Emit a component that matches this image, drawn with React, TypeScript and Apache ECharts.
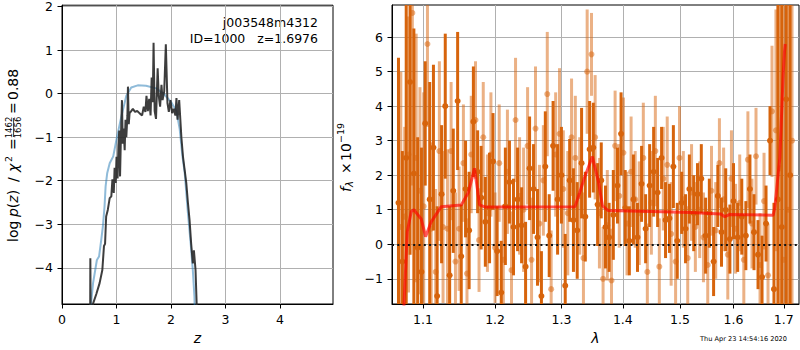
import React, { useEffect, useRef } from 'react';
import * as echarts from 'echarts';

// ---- left panel: log p(z) ----
const zTicks = [0, 1, 2, 3, 4];
const pzTicks = [-4, -3, -2, -1, 0, 1, 2];
const pzFull: [number, number][] = [
  [0.515, -6], [0.52, -3.78], [0.53, -6], [0.57, -4.82], [0.63, -4.6], [0.69, -4.35], [0.74, -4.05],
  [0.77, -3.5], [0.79, -3.45], [0.81, -2.82], [0.84, -2.67], [0.875, -2.4], [0.905, -2.36], [0.925, -1.97],
  [0.95, -2.28], [0.965, -1.7], [0.985, -2.05], [1.0, -1.45], [1.02, -1.95], [1.035, -1.2], [1.05, -0.85],
  [1.065, -1.9], [1.08, -1.05], [1.10, -0.15], [1.115, -1.15], [1.13, -0.8], [1.15, -1.3], [1.165, -0.6],
  [1.18, -1.0], [1.2, -0.5], [1.21, 0.16], [1.225, -0.7], [1.24, -0.45], [1.27, -0.4], [1.30, -0.35],
  [1.34, -0.42], [1.38, -0.4], [1.43, -0.46], [1.47, -0.5], [1.50, -0.3], [1.53, -0.42], [1.55, -0.05],
  [1.575, -0.4], [1.60, -0.12], [1.625, -0.5], [1.645, 0.37], [1.665, -0.2], [1.68, 1.17], [1.70, -0.4],
  [1.725, -0.58], [1.755, 0.58], [1.775, -0.05], [1.80, -0.3], [1.825, 0.2], [1.845, -0.15], [1.875, 0.05],
  [1.905, 1.13], [1.935, -0.22], [1.96, -0.42], [1.99, -0.15], [2.02, -0.45], [2.05, -0.35], [2.08, -0.5],
  [2.10, -0.1], [2.12, -0.6], [2.15, -0.15], [2.19, -1.0], [2.22, -1.45], [2.25, -1.75], [2.28, -2.05],
  [2.31, -2.5], [2.34, -2.9], [2.37, -3.45], [2.40, -3.9], [2.42, -3.6], [2.45, -4.05], [2.47, -4.8], [2.49, -6],
];
const pzSmooth: [number, number][] = [
  [0.51, -6], [0.53, -4.85], [0.57, -4.35], [0.64, -3.82], [0.68, -3.74], [0.72, -3.36], [0.75, -3.05],
  [0.78, -2.6], [0.80, -2.13], [0.83, -1.82], [0.875, -1.6], [0.94, -1.44], [1.0, -1.05], [1.09, -0.52],
  [1.18, -0.05], [1.27, 0.14], [1.39, 0.19], [1.54, 0.18], [1.73, 0.12], [1.88, -0.02], [2.01, -0.21],
  [2.10, -0.4], [2.16, -0.82], [2.21, -1.44], [2.25, -1.8], [2.31, -2.74], [2.36, -3.43], [2.40, -4.05],
  [2.43, -4.66], [2.45, -6],
];

// ---- right panel: spectrum ----
const lamTicks = [1.1, 1.2, 1.3, 1.4, 1.5, 1.6, 1.7];
const fluxTicks = [-1, 0, 1, 2, 3, 4, 5, 6];
// [wavelength, flux, error]
const specA: [number, number, number][] = [
  [1.068, 1.2, 4.2], [1.073, -0.5, 3.2], [1.078, 2.5, 5.5], [1.083, 4.7, 5.0], [1.088, 2.05, 4.2],
  [1.093, -0.1, 3.2], [1.098, -0.8, 3.6], [1.103, 3.5, 1.8], [1.109, 1.3, 3.4], [1.114, 2.8, 2.4],
  [1.119, -1.5, 2.6], [1.125, 1.45, 2.0], [1.130, 4.0, 2.1], [1.136, -0.9, 2.0], [1.141, 1.55, 1.8],
  [1.147, 4.15, 2.0], [1.152, -0.35, 1.5], [1.158, 1.6, 1.4], [1.163, 0.4, 1.7], [1.169, 3.55, 1.6],
  [1.175, 2.1, 1.2], [1.180, 1.35, 1.5], [1.186, 0.65, 1.3], [1.192, 1.05, 1.6], [1.197, 2.4, 1.4],
  [1.203, -0.2, 1.3], [1.209, -1.4, 1.5], [1.215, 1.1, 1.7], [1.221, 1.8, 1.2], [1.227, 0.5, 1.4],
  [1.233, 1.3, 1.5], [1.239, 0.55, 1.1], [1.245, -0.65, 1.3], [1.251, 2.2, 1.5], [1.257, 1.6, 1.3],
  [1.263, 0.2, 1.4], [1.269, -1.5, 1.3], [1.275, 2.25, 1.6], [1.281, 0.25, 1.2], [1.287, 2.85, 1.3],
  [1.294, 1.3, 1.6], [1.300, 2.0, 1.4], [1.306, -1.2, 1.5], [1.313, 1.85, 1.2], [1.319, 0.7, 1.5],
  [1.325, 0.4, 1.4], [1.332, 2.35, 1.6], [1.338, 0.8, 1.3], [1.345, 2.75, 1.4], [1.351, 2.8, 1.3],
  [1.358, 1.15, 1.2], [1.364, 1.85, 1.1], [1.371, 0.5, 1.2], [1.377, 0.2, 1.0], [1.384, 0.85, 1.3],
  [1.391, 1.7, 1.1], [1.397, 3.2, 1.2], [1.404, 1.05, 1.1], [1.411, 0.1, 1.0], [1.418, 1.3, 1.3],
  [1.425, 0.2, 1.0], [1.432, 1.75, 1.1], [1.439, 0.45, 1.0], [1.446, 1.7, 1.2], [1.453, 2.1, 1.3],
  [1.460, 1.5, 1.0], [1.467, 2.5, 0.9], [1.474, 0.7, 1.1], [1.481, 0.75, 1.0], [1.488, 2.25, 1.2],
  [1.495, 0.1, 1.1], [1.503, 1.2, 0.9], [1.510, 0.45, 1.0], [1.517, 1.6, 1.0], [1.525, 0.9, 1.1],
  [1.532, 1.45, 0.9], [1.539, 1.9, 1.0], [1.547, 0.25, 1.1], [1.554, 0.9, 1.0], [1.562, -0.5, 1.0],
  [1.570, 1.4, 0.9], [1.577, 0.35, 1.0], [1.585, 1.0, 1.2], [1.593, 0.15, 1.0], [1.600, 1.25, 1.1],
  [1.608, 0.2, 1.0], [1.616, 0.8, 1.1], [1.624, 0.25, 1.0], [1.632, 1.6, 1.0], [1.640, 0.35, 1.1],
  [1.648, -0.3, 1.0], [1.656, -0.95, 1.2], [1.664, 0.6, 1.1], [1.672, 3.0, 1.0], [1.680, -1.3, 2.5],
  [1.688, 1.3, 6], [1.696, 0.5, 8], [1.705, 4.2, 8], [1.713, 2.0, 8],
];
const specB: [number, number, number][] = [
  [1.071, 0.5, 4.5], [1.076, 0.8, 2.6], [1.081, 2.6, 4.0], [1.086, 6.7, 5.0], [1.091, 2.5, 3.6],
  [1.096, 1.55, 3.0], [1.101, 1.1, 3.3], [1.106, 5.8, 2.4], [1.111, 0.45, 2.5], [1.117, -0.8, 2.4],
  [1.122, 2.7, 2.6], [1.127, 0.5, 2.2], [1.133, 0.45, 2.3], [1.138, 2.7, 2.0], [1.144, -0.5, 2.0],
  [1.149, 0.45, 1.8], [1.155, 2.35, 1.7], [1.160, -0.85, 1.6], [1.166, 2.6, 1.7], [1.172, 3.6, 1.7],
  [1.177, 0.12, 1.5], [1.183, 3.1, 1.6], [1.189, 0.9, 1.7], [1.194, 2.6, 1.8], [1.200, -0.1, 1.6],
  [1.206, 2.35, 1.7], [1.212, -0.45, 1.6], [1.218, 2.1, 1.8], [1.224, -0.75, 1.7], [1.230, 3.6, 1.8],
  [1.236, 1.4, 1.7], [1.242, 1.0, 1.8], [1.248, 2.85, 1.7], [1.254, -0.45, 1.8], [1.260, 3.35, 1.8],
  [1.266, 0.6, 1.7], [1.272, 1.85, 1.6], [1.278, 4.35, 1.8], [1.284, -1.3, 1.7], [1.291, 2.6, 1.8],
  [1.297, 3.2, 1.9], [1.303, 1.6, 1.7], [1.310, 0.9, 1.8], [1.316, 3.1, 1.7], [1.322, 2.5, 1.8],
  [1.329, 1.4, 1.7], [1.335, -0.4, 1.9], [1.341, 5.0, 1.8], [1.348, 5.5, 1.2], [1.354, 3.1, 1.8],
  [1.361, 0.9, 1.6], [1.367, -1.0, 1.5], [1.374, 0.55, 1.6], [1.381, -1.05, 1.5], [1.387, 2.85, 1.6],
  [1.394, 1.4, 1.5], [1.401, 2.65, 1.6], [1.407, 0.6, 1.5], [1.414, 2.1, 1.6], [1.421, 1.3, 1.4],
  [1.428, 0.9, 1.5], [1.435, 2.5, 1.6], [1.442, -0.8, 1.4], [1.449, 1.2, 1.5], [1.456, 2.7, 1.6],
  [1.463, -0.65, 1.4], [1.470, 1.9, 1.5], [1.477, 2.3, 1.4], [1.484, 0.3, 1.5], [1.492, -0.5, 1.4],
  [1.499, 2.5, 1.5], [1.506, 1.3, 1.4], [1.514, -0.4, 1.5], [1.521, 1.5, 1.4], [1.528, 0.5, 1.3],
  [1.536, 1.0, 1.4], [1.543, 0.2, 1.3], [1.551, -0.6, 1.4], [1.558, 1.55, 1.3], [1.566, 0.4, 1.4],
  [1.573, 2.35, 1.3], [1.581, 1.3, 1.5], [1.589, -0.3, 1.3], [1.596, 1.9, 1.4], [1.604, 0.45, 1.3],
  [1.612, 1.2, 1.4], [1.620, -0.45, 1.3], [1.628, 2.45, 1.4], [1.636, 0.6, 1.3], [1.644, 2.55, 1.4],
  [1.652, -0.6, 1.5], [1.660, 1.25, 1.4], [1.668, -0.9, 1.5], [1.676, 3.85, 1.9], [1.684, 3.3, 3.5],
  [1.692, 2.2, 6], [1.700, -0.45, 8], [1.709, 1.0, 8], [1.717, 3.0, 8],
];
const model: [number, number][] = [
  [1.0735, -3], [1.0751, -1.76], [1.0794, 0.37], [1.0846, 0.95], [1.088, 1.0], [1.0978, 0.73],
  [1.1035, 0.22], [1.111, 0.65], [1.1245, 1.09], [1.152, 1.14], [1.162, 1.5], [1.1706, 2.2],
  [1.1777, 1.14], [1.185, 1.08], [1.3215, 1.09], [1.329, 1.5], [1.3364, 1.91], [1.3494, 2.54],
  [1.3592, 1.83], [1.3661, 1.11], [1.375, 0.98], [1.45, 0.95], [1.52, 0.92], [1.575, 0.88],
  [1.5833, 0.8], [1.592, 0.86], [1.6783, 0.84], [1.6817, 1.06], [1.6919, 2.5], [1.6987, 4.9],
  [1.7016, 5.6], [1.703, 5.8],
];

const FONT = 'DejaVu Sans';
const minus = (v: number, d = 0) => v.toFixed(d).replace('-', '\u2212');
const ORANGE = 'rgb(215,100,12)';

function errorSeries(points: [number, number, number][], opacity: number) {
  return {
    type: 'custom',
    xAxisIndex: 1,
    yAxisIndex: 1,
    clip: true,
    encode: { x: 0, y: 1 },
    data: points.map(([w, f, e]) => [Math.log(w), f, e]),
    renderItem: (params: any, api: any) => {
      const x = api.value(0);
      const y = api.value(1);
      const e = api.value(2);
      const top = api.coord([x, y + e]);
      const bot = api.coord([x, y - e]);
      const c = api.coord([x, y]);
      return {
        type: 'group',
        children: [
          { type: 'line', shape: { x1: top[0], y1: top[1], x2: bot[0], y2: bot[1] }, style: { stroke: ORANGE, lineWidth: 3, opacity } },
          { type: 'circle', shape: { cx: c[0], cy: c[1], r: 3 }, style: { fill: ORANGE, opacity } },
        ],
      };
    },
  };
}

function axisCommon(ticks: number[], fmt: (v: number) => string) {
  return {
    axisLine: { show: true, onZero: false, lineStyle: { color: '#000', width: 1 } },
    axisTick: { show: true, length: 4.5, customValues: ticks, lineStyle: { color: '#000', width: 1 } },
    axisLabel: { customValues: ticks, formatter: fmt, color: '#000', fontSize: 12.5, fontFamily: FONT, margin: 9 },
    splitLine: { show: true, lineStyle: { color: '#b0b0b0', width: 1 } },
  };
}

export default function App() {
  const ref = useRef<HTMLDivElement>(null);
  useEffect(() => {
    if (!ref.current) return;
    const chart = echarts.init(ref.current, undefined, { renderer: 'svg' });
    const lnTicks = lamTicks.map((t) => Math.log(t));
    chart.setOption({
      animation: false,
      textStyle: { fontFamily: FONT },
      grid: [
        { left: 62, top: 5, width: 271, height: 299, show: true, borderColor: '#000', borderWidth: 1, containLabel: false },
        { left: 392, top: 5, width: 407, height: 299, show: true, borderColor: '#000', borderWidth: 1, containLabel: false },
      ],
      xAxis: [
        {
          gridIndex: 0, type: 'value', min: 0, max: 4.972,
          ...axisCommon(zTicks, (v: number) => minus(v)),
          name: 'z', nameLocation: 'middle', nameGap: 26,
          nameTextStyle: { fontStyle: 'italic', fontSize: 14, color: '#000', fontFamily: FONT },
        },
        {
          gridIndex: 1, type: 'value', min: 0.05796, max: 0.549,
          ...axisCommon(lnTicks, (v: number) => Math.exp(v).toFixed(1)),
          name: '\u03bb', nameLocation: 'middle', nameGap: 26,
          nameTextStyle: { fontStyle: 'italic', fontSize: 14, color: '#000', fontFamily: FONT },
        },
      ],
      yAxis: [
        { gridIndex: 0, type: 'value', min: -4.83, max: 2.03, ...axisCommon(pzTicks, (v: number) => minus(v)) },
        { gridIndex: 1, type: 'value', min: -1.73, max: 6.93, ...axisCommon(fluxTicks, (v: number) => minus(v)) },
      ],
      series: [
        {
          type: 'line', xAxisIndex: 0, yAxisIndex: 0, data: pzSmooth, showSymbol: false, symbol: 'none',
          lineStyle: { color: 'rgba(31,119,180,0.5)', width: 2 }, z: 2,
        },
        {
          type: 'line', xAxisIndex: 0, yAxisIndex: 0, data: pzFull, showSymbol: false, symbol: 'none',
          lineStyle: { color: 'rgba(40,40,40,0.9)', width: 2 }, z: 3,
        },
        errorSeries(specA, 1),
        errorSeries(specB, 0.5),
        {
          type: 'line', xAxisIndex: 1, yAxisIndex: 1, data: model.map(([w, f]) => [Math.log(w), f]),
          showSymbol: false, symbol: 'none', lineStyle: { color: 'rgba(255,0,0,0.65)', width: 3 }, z: 4,
          markLine: {
            silent: true, symbol: 'none', label: { show: false },
            lineStyle: { color: '#111', type: [2, 3.3], width: 2 },
            data: [{ yAxis: 0 }],
          },
        },
      ],
      graphic: [
        {
          type: 'text', x: 318, y: 22,
          style: { text: 'j003548m4312', fill: '#000', fontSize: 12.5, fontFamily: FONT, align: 'right', verticalAlign: 'middle', textAlign: 'right', textVerticalAlign: 'middle' },
        },
        {
          type: 'text', x: 318, y: 38,
          style: { text: 'ID=1000   z=1.6976', fill: '#000', fontSize: 12.5, fontFamily: FONT, align: 'right', verticalAlign: 'middle', textAlign: 'right', textVerticalAlign: 'middle' },
        },
        {
          type: 'group', x: 13.3, y: 242, rotation: Math.PI / 2,
          children: [
            { type: 'text', x: 0, y: 0, style: { text: 'log', fill: '#000', fontSize: 14, fontFamily: FONT, align: 'left', verticalAlign: 'middle' } },
            {
              type: 'text', x: 25, y: 0,
              style: {
                text: '{i|p}{u|(}{i|z}{u|)}', fill: '#000', fontSize: 14, fontFamily: FONT, align: 'left', verticalAlign: 'middle',
                rich: { i: { fontStyle: 'italic', fontSize: 14, fontFamily: FONT }, u: { fontSize: 14, fontFamily: FONT } },
              },
            },
            { type: 'text', x: 60, y: 0, style: { text: '/', fill: '#000', fontSize: 14, fontFamily: FONT, align: 'left', verticalAlign: 'middle' } },
            { type: 'text', x: 70, y: 0, style: { text: '\u03c7', fill: '#000', fontSize: 14, fontStyle: 'italic', fontFamily: FONT, align: 'left', verticalAlign: 'middle' } },
            { type: 'text', x: 80, y: -5, style: { text: '2', fill: '#000', fontSize: 9.5, fontFamily: FONT, align: 'left', verticalAlign: 'middle' } },
            { type: 'text', x: 92, y: 0, style: { text: '=', fill: '#000', fontSize: 14, fontFamily: FONT, align: 'left', verticalAlign: 'middle' } },
            { type: 'text', x: 114.5, y: -4, style: { text: '1462', fill: '#000', fontSize: 8.5, fontFamily: FONT, align: 'center', verticalAlign: 'middle' } },
            { type: 'line', shape: { x1: 105, y1: 0.3, x2: 124, y2: 0.3 }, style: { stroke: '#000', lineWidth: 0.8 } },
            { type: 'text', x: 114.5, y: 4.6, style: { text: '1656', fill: '#000', fontSize: 8.5, fontFamily: FONT, align: 'center', verticalAlign: 'middle' } },
            { type: 'text', x: 128, y: 0, style: { text: '=', fill: '#000', fontSize: 14, fontFamily: FONT, align: 'left', verticalAlign: 'middle' } },
            { type: 'text', x: 142, y: 0, style: { text: '0.88', fill: '#000', fontSize: 14, fontFamily: FONT, align: 'left', verticalAlign: 'middle' } },
          ],
        },
        {
          type: 'group', x: 345.5, y: 192, rotation: Math.PI / 2,
          children: [
            { type: 'text', x: 0, y: 0, style: { text: 'f', fill: '#000', fontSize: 14, fontStyle: 'italic', fontFamily: FONT, align: 'left', verticalAlign: 'middle' } },
            { type: 'text', x: 5, y: 4, style: { text: '\u03bb', fill: '#000', fontSize: 10, fontStyle: 'italic', fontFamily: FONT, align: 'left', verticalAlign: 'middle' } },
            { type: 'text', x: 18, y: 0, style: { text: '\u00d7', fill: '#000', fontSize: 14, fontFamily: FONT, align: 'left', verticalAlign: 'middle' } },
            { type: 'text', x: 31, y: 0, style: { text: '10', fill: '#000', fontSize: 14, fontFamily: FONT, align: 'left', verticalAlign: 'middle' } },
            { type: 'text', x: 49, y: -5.5, style: { text: '\u221219', fill: '#000', fontSize: 9.5, fontFamily: FONT, align: 'left', verticalAlign: 'middle' } },
          ],
        },
        {
          type: 'text', x: 700, y: 339,
          style: { text: 'Thu Apr 23 14:54:16 2020', fill: '#000', fontSize: 6.6, fontFamily: FONT, align: 'left', verticalAlign: 'middle' },
        },
      ],
    });
    return () => chart.dispose();
  }, []);
  return <div ref={ref} style={{ position: 'fixed', left: 0, top: 0, width: 800, height: 350, background: '#fff' }} />;
}
